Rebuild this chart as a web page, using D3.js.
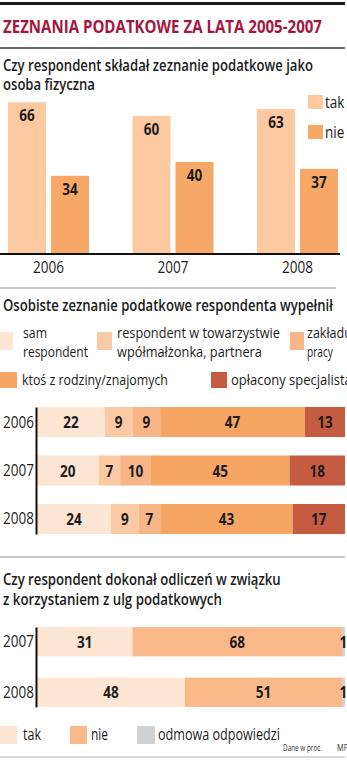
<!DOCTYPE html>
<html lang="pl">
<head>
<meta charset="utf-8">
<script src="https://cdn.jsdelivr.net/npm/d3@7"></script>
<style>
  html, body { margin: 0; padding: 0; background: #fff; }
  svg { display: block; font-family: "Open Sans", "Noto Sans", sans-serif; }
</style>
</head>
<body>
<svg id="chart" width="347" height="760"></svg>
<script>
// ---- data -------------------------------------------------------------
const filingYears = ["2006", "2007", "2008"];
const filingSeries = ["tak", "nie"];
const filedYes = [66, 60, 63];
const filedNo = [34, 40, 37];

const preparedYears = ["2006", "2007", "2008"];
const preparedKeys = ["sam", "partner", "praca", "rodzina", "specjalista"];
const selfPrepared = [22, 20, 24];
const withSpouse = [9, 7, 9];
const byEmployer = [9, 10, 7];
const familyFriends = [47, 45, 43];
const paidSpecialist = [13, 18, 17];

const reliefYears = ["2007", "2008"];
const reliefKeys = ["tak", "nie", "odmowa"];
const reliefYes = [31, 48];
const reliefNo = [68, 51];
const reliefRefused = [1, 1];

// ---- helpers -----------------------------------------------------------
const svg = d3.select("#chart");
const INK = "#1c1c1c";
const SX = 0.82; // condensed look for short labels

function label(g, x, y, s, o = {}) {
  return g.append("text")
    .attr("transform", `translate(${x},${y}) scale(${o.sx || SX},1)`)
    .attr("text-anchor", o.anchor || "start")
    .attr("font-size", o.size || 15)
    .attr("font-weight", o.weight || 400)
    .attr("fill", o.fill || INK)
    .text(s);
}
// text squeezed horizontally so that it spans the given width
function fitted(g, x, y, s, len, o = {}) {
  const t = g.append("text")
    .attr("font-size", o.size || 15)
    .attr("font-weight", o.weight || 400)
    .attr("fill", o.fill || INK)
    .text(s);
  const natural = t.node().getComputedTextLength() || len;
  t.attr("transform", `translate(${x},${y}) scale(${len / natural},1)`);
  return t;
}
function rule(y, x2, color, w) {
  svg.append("line").attr("x1", 0).attr("x2", x2).attr("y1", y).attr("y2", y)
    .attr("stroke", color).attr("stroke-width", w);
}

// ---- header ------------------------------------------------------------
rule(3.5, 345, "#1a1a1a", 3);
fitted(svg, 3, 33, "ZEZNANIA PODATKOWE ZA LATA 2005-2007", 319, { size: 18.5, weight: 700, fill: "#a3173f" });
rule(48, 345, "#3a3a3a", 1.5);

// ---- section 1: grouped bars ------------------------------------------
const H = { size: 15.5, weight: 600 };
fitted(svg, 3, 71, "Czy respondent składał zeznanie podatkowe jako", 310, H);
fitted(svg, 3, 90, "osoba fizyczna", 92, H);

const filingColor = d3.scaleOrdinal(filingSeries, ["#fcc9a1", "#f8a866"]);
const x0 = d3.scaleBand(filingYears, [8, 338]).paddingInner(0.349).paddingOuter(0);
const x1 = d3.scaleBand(filingSeries, [0, x0.bandwidth()]).paddingInner(0.116);
const y1 = d3.scaleLinear([0, 100], [254, 24]);

const filingRows = filingYears.map((yr, i) => ({ year: yr, tak: filedYes[i], nie: filedNo[i] }));
const groups = svg.append("g").selectAll("g").data(filingRows).join("g")
  .attr("transform", d => `translate(${x0(d.year)},0)`);
groups.selectAll("rect").data(d => filingSeries.map(k => ({ key: k, v: d[k] }))).join("rect")
  .attr("x", d => x1(d.key)).attr("width", x1.bandwidth())
  .attr("y", d => y1(d.v)).attr("height", d => y1(0) - y1(d.v))
  .attr("fill", d => filingColor(d.key));
groups.each(function (d) {
  const g = d3.select(this);
  filingSeries.forEach(k => {
    label(g, x1(k) + x1.bandwidth() / 2, y1(d[k]) + 19, d[k], { anchor: "middle", size: 16.5, weight: 700 });
  });
});

const xAxis1 = svg.append("g").attr("transform", `translate(0,${y1(0)})`)
  .call(d3.axisBottom(x0).tickSize(0).tickPadding(0));
xAxis1.select(".domain").attr("d", "M0,0H340").attr("stroke", "#111").attr("stroke-width", 2);
xAxis1.selectAll(".tick text").remove();
filingYears.forEach(yr => label(svg, x0(yr) + x0.bandwidth() / 2, 273, yr, { anchor: "middle", size: 16.5 }));

// legend
const leg1 = svg.append("g");
filingSeries.forEach((k, i) => {
  const ly = [95, 125][i];
  leg1.append("rect").attr("x", 308).attr("y", ly).attr("width", 15).attr("height", 14).attr("fill", filingColor(k));
  label(leg1, 325, ly + 13, k, { size: 16.5, weight: 500 });
});

rule(288, 336, "#b3b3b3", 1.5);

// ---- section 2: stacked bars ------------------------------------------
fitted(svg, 3, 311, "Osobiste zeznanie podatkowe respondenta wypełnił", 330, H);

const preparedColor = d3.scaleOrdinal(preparedKeys, ["#fde6d3", "#fbcaa4", "#f8b688", "#f6a562", "#c55b40"]);

const L = { size: 15, weight: 500 };
const leg2 = svg.append("g");
[
  { k: "sam", sx: 0, sy: 332, w: 13, h: 18, lines: [["sam", 23, 338, 24], ["respondent", 23, 357, 65]] },
  { k: "partner", sx: 97, sy: 332, w: 15, h: 18, lines: [["respondent w towarzystwie", 117, 338, 163], ["wpółmałżonka, partnera", 117, 357, 145]] },
  { k: "praca", sx: 290, sy: 332, w: 14, h: 18, lines: [["zakładu", 307, 338, 45], ["pracy", 307, 357, 26]] },
  { k: "rodzina", sx: 0, sy: 372, w: 17, h: 16, lines: [["ktoś z rodziny/znajomych", 22, 385, 146]] },
  { k: "specjalista", sx: 211, sy: 372, w: 16, h: 16, lines: [["opłacony specjalista", 231, 385, 121]] }
].forEach(e => {
  leg2.append("rect").attr("x", e.sx).attr("y", e.sy).attr("width", e.w).attr("height", e.h).attr("fill", preparedColor(e.k));
  e.lines.forEach(([t, x, y, len]) => fitted(leg2, x, y, t, len, L));
});

const preparedRows = preparedYears.map((yr, i) => ({
  year: yr, sam: selfPrepared[i], partner: withSpouse[i], praca: byEmployer[i],
  rodzina: familyFriends[i], specjalista: paidSpecialist[i]
}));
const xs = d3.scaleLinear([0, 100], [37, 345]);
const ys = d3.scaleBand(preparedYears, [407, 534]).paddingInner(0.381).paddingOuter(0);
const stacked = d3.stack().keys(preparedKeys)(preparedRows);

const stackG = svg.append("g");
stackG.selectAll("g").data(stacked).join("g")
  .attr("fill", s => preparedColor(s.key))
  .selectAll("rect").data(s => s).join("rect")
  .attr("x", d => xs(d[0])).attr("width", d => xs(d[1]) - xs(d[0]))
  .attr("y", d => ys(d.data.year)).attr("height", ys.bandwidth());
stacked.forEach(s => s.forEach(d => {
  label(stackG, (xs(d[0]) + xs(d[1])) / 2, ys(d.data.year) + ys.bandwidth() / 2 + 6, d[1] - d[0],
    { anchor: "middle", size: 16.5, weight: 700 });
}));

const yAxis2 = svg.append("g").attr("transform", "translate(36,0)")
  .call(d3.axisLeft(ys).tickSize(0).tickSizeOuter(0).tickPadding(0));
yAxis2.select(".domain").attr("stroke", "#111").attr("stroke-width", 2);
yAxis2.selectAll(".tick text").remove();
preparedYears.forEach(yr => label(svg, 34, ys(yr) + ys.bandwidth() / 2 + 5.5, yr, { anchor: "end", size: 16.5 }));

rule(557, 345, "#b3b3b3", 1.5);

// ---- section 3: relief usage -------------------------------------------
fitted(svg, 3, 585, "Czy respondent dokonał odliczeń w związku", 278, H);
fitted(svg, 3, 605, "z korzystaniem z ulg podatkowych", 219, H);

const reliefColor = d3.scaleOrdinal(reliefKeys, ["#fde6d3", "#f9b98a", "#d2d2d2"]);
const reliefRows = reliefYears.map((yr, i) => ({ year: yr, tak: reliefYes[i], nie: reliefNo[i], odmowa: reliefRefused[i] }));
const yr3 = d3.scaleBand(reliefYears, [627, 707]).paddingInner(0.42).paddingOuter(0);
const stacked3 = d3.stack().keys(reliefKeys)(reliefRows);

const reliefG = svg.append("g");
reliefG.selectAll("g").data(stacked3).join("g")
  .attr("fill", s => reliefColor(s.key))
  .selectAll("rect").data(s => s).join("rect")
  .attr("x", d => xs(d[0])).attr("width", d => xs(d[1]) - xs(d[0]))
  .attr("y", d => yr3(d.data.year)).attr("height", yr3.bandwidth());
stacked3.forEach(s => s.forEach(d => {
  label(reliefG, (xs(d[0]) + xs(d[1])) / 2, yr3(d.data.year) + yr3.bandwidth() / 2 + 6, d[1] - d[0],
    { anchor: "middle", size: 16.5, weight: 700 });
}));

const yAxis3 = svg.append("g").attr("transform", "translate(36,0)")
  .call(d3.axisLeft(yr3).tickSize(0).tickSizeOuter(0).tickPadding(0));
yAxis3.select(".domain").attr("stroke", "#111").attr("stroke-width", 2);
yAxis3.selectAll(".tick text").remove();
reliefYears.forEach(yr => label(svg, 34, yr3(yr) + yr3.bandwidth() / 2 + 5.5, yr, { anchor: "end", size: 16.5 }));

// legend
const leg3 = svg.append("g");
[
  { k: "tak", sx: 0, w: 17, tx: 23, len: 18, t: "tak" },
  { k: "nie", sx: 70, w: 17, tx: 91, len: 17, t: "nie" },
  { k: "odmowa", sx: 137, w: 18, tx: 158, len: 122, t: "odmowa odpowiedzi" }
].forEach(e => {
  leg3.append("rect").attr("x", e.sx).attr("y", 726).attr("width", e.w).attr("height", 18).attr("fill", reliefColor(e.k));
  fitted(leg3, e.tx, 740, e.t, e.len, { size: 16, weight: 500 });
});

fitted(svg, 283, 751, "Dane w proc.", 39, { size: 9, fill: "#333" });
label(svg, 337, 751, "MF", { size: 9, fill: "#333" });
rule(757, 345, "#b3b3b3", 1.2);
</script>
</body>
</html>
